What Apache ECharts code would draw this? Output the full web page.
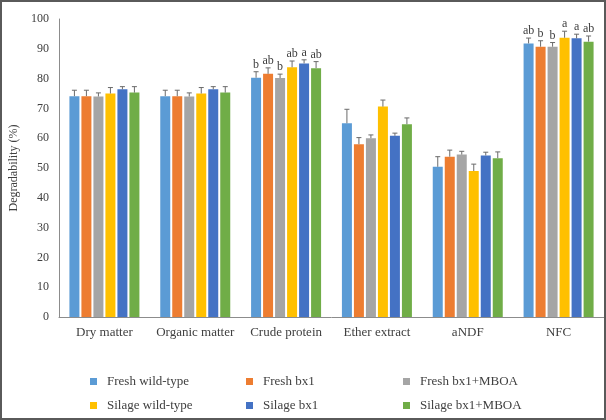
<!DOCTYPE html>
<html>
<head>
<meta charset="utf-8">
<script src="https://cdn.jsdelivr.net/npm/echarts@6/dist/echarts.min.js"></script>
<style>
  html, body { margin: 0; padding: 0; background: #fff; }
  #wrap { position: relative; width: 606px; height: 420px; }
  #chart { width: 606px; height: 420px; }
  #frame { position: absolute; left: 0; top: 0; width: 606px; height: 420px; box-sizing: border-box; border: 2px solid #5a5a5a; pointer-events: none; }
</style>
</head>
<body>
<div id="wrap"><div id="chart"></div><div id="frame"></div></div>
<script>
const categories = ['Dry matter', 'Organic matter', 'Crude protein', 'Ether extract', 'aNDF', 'NFC'];
const seriesNames = ['Fresh wild-type', 'Fresh bx1', 'Fresh bx1+MBOA', 'Silage wild-type', 'Silage bx1', 'Silage bx1+MBOA'];
const colors = ['#5B9BD5', '#ED7D31', '#A5A5A5', '#FFC000', '#4472C4', '#70AD47'];

const freshWild      = [74.1, 74.1, 80.3, 65.0, 50.4, 91.8];
const freshWildErr   = [2.0, 2.0, 2.0, 4.7, 3.4, 1.8];
const freshBx1       = [74.1, 74.1, 81.6, 58.0, 53.8, 90.7];
const freshBx1Err    = [2.0, 2.0, 2.0, 2.2, 2.2, 2.0];
const freshBx1M      = [74.0, 74.0, 80.2, 60.0, 54.5, 90.7];
const freshBx1MErr   = [1.2, 1.2, 1.3, 1.1, 1.1, 1.4];
const silageWild     = [75.0, 75.0, 83.8, 70.6, 49.0, 93.7];
const silageWildErr  = [2.0, 2.0, 2.1, 2.2, 2.3, 2.2];
const silageBx1      = [76.4, 76.4, 85.1, 60.8, 54.2, 93.5];
const silageBx1Err   = [0.9, 0.9, 1.2, 0.9, 1.1, 1.4];
const silageBx1M     = [75.3, 75.3, 83.5, 64.7, 53.3, 92.4];
const silageBx1MErr  = [2.0, 2.0, 2.2, 2.1, 2.1, 1.9];

const freshWildLetters  = ['', '', 'b', '', '', 'ab'];
const freshBx1Letters   = ['', '', 'ab', '', '', 'b'];
const freshBx1MLetters  = ['', '', 'b', '', '', 'b'];
const silageWildLetters = ['', '', 'ab', '', '', 'a'];
const silageBx1Letters  = ['', '', 'a', '', '', 'a'];
const silageBx1MLetters = ['', '', 'ab', '', '', 'ab'];

const yTicks = [0, 10, 20, 30, 40, 50, 60, 70, 80, 90, 100];

const values = [freshWild, freshBx1, freshBx1M, silageWild, silageBx1, silageBx1M];
const errors = [freshWildErr, freshBx1Err, freshBx1MErr, silageWildErr, silageBx1Err, silageBx1MErr];
const letters = [freshWildLetters, freshBx1Letters, freshBx1MLetters, silageWildLetters, silageBx1Letters, silageBx1MLetters];

const FONT = '"Liberation Serif", "Times New Roman", serif';
const BAR_W = 10, BAR_GAP = 2;

const series = [];
values.forEach((vals, s) => {
  series.push({
    name: seriesNames[s], type: 'bar', data: vals,
    barWidth: BAR_W, barGap: '20%', barCategoryGap: '23%',
    itemStyle: { color: colors[s] }, z: 2
  });
});
values.forEach((vals, s) => {
  const offset = -((6 * BAR_W + 5 * BAR_GAP) / 2) + BAR_W / 2 + s * (BAR_W + BAR_GAP);
  series.push({
    name: seriesNames[s], type: 'custom', z: 5, silent: true,
    data: vals.map((v, i) => [i, v, errors[s][i]]),
    renderItem: function (params, api) {
      const i = api.value(0), v = api.value(1), e = api.value(2);
      const p0 = api.coord([i, v]);
      const p1 = api.coord([i, v + e]);
      const x = p0[0] + offset;
      const children = [
        { type: 'line', shape: { x1: x, y1: p0[1], x2: x, y2: p1[1] }, style: { stroke: '#6b6b6b', lineWidth: 1 } },
        { type: 'line', shape: { x1: x - 2.5, y1: p1[1], x2: x + 2.5, y2: p1[1] }, style: { stroke: '#6b6b6b', lineWidth: 1 } }
      ];
      const lt = letters[s][params.dataIndex];
      if (lt) {
        children.push({ type: 'text', style: { text: lt, x: x, y: p1[1] - 1, align: 'center', verticalAlign: 'bottom', font: '12px ' + FONT, fill: '#404040' } });
      }
      return { type: 'group', children: children };
    }
  });
});

const legendPos = [[90, 375], [246, 375], [403, 375], [90, 399], [246, 399], [403, 399]];
const legends = seriesNames.map((n, k) => ({
  data: [n], left: legendPos[k][0], top: legendPos[k][1], padding: 0,
  icon: 'rect', itemWidth: 7, itemHeight: 7, selectedMode: false,
  textStyle: { fontFamily: FONT, fontSize: 13, color: '#404040', padding: [0, 0, 0, 5] }
}));

const chart = echarts.init(document.getElementById('chart'), null, { renderer: 'canvas' });
chart.setOption({
  animation: false,
  color: colors,
  grid: { left: 53, right: 2, top: 19, bottom: 103, containLabel: false },
  legend: legends,
  xAxis: {
    type: 'category', data: categories,
    axisLine: { lineStyle: { color: '#8c8c8c', width: 1 } },
    axisTick: { show: false },
    axisLabel: { interval: 0, fontFamily: FONT, fontSize: 13, color: '#404040', margin: 9 }
  },
  yAxis: {
    type: 'value', min: yTicks[0], max: yTicks[yTicks.length - 1], interval: 10,
    name: 'Degradability (%)', nameLocation: 'middle', nameGap: 39, nameRotate: 90,
    nameTextStyle: { fontFamily: FONT, fontSize: 12, color: '#404040' },
    axisLine: { show: true, lineStyle: { color: '#8c8c8c', width: 1 } },
    axisTick: { show: false },
    splitLine: { show: false },
    axisLabel: { fontFamily: FONT, fontSize: 12, color: '#404040', margin: 10 }
  },
  series: series
});
</script>
</body>
</html>
